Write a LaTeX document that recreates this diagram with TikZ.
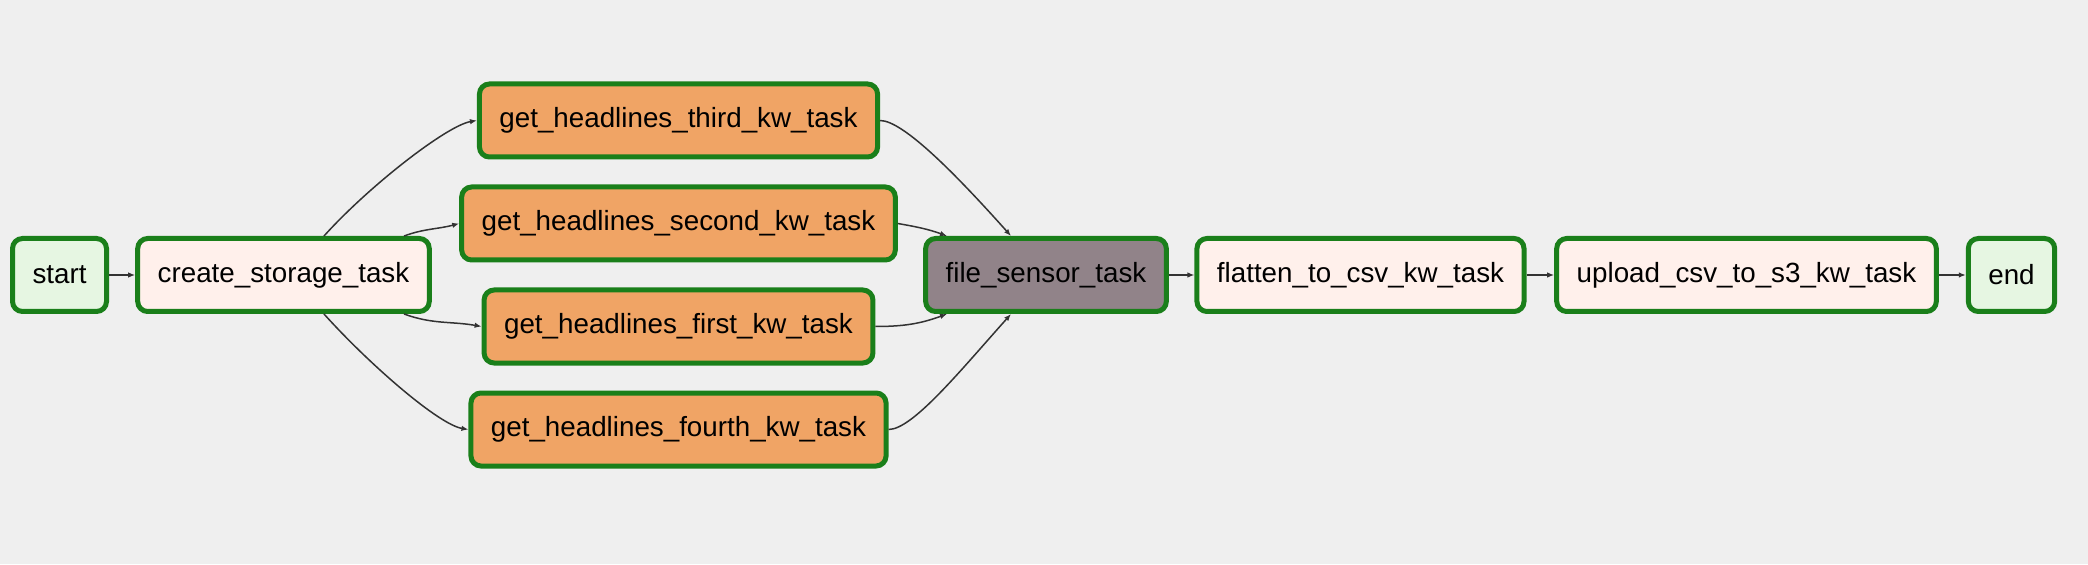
\documentclass[tikz,border=0pt]{standalone}
\usepackage{fontspec}
\setmainfont{Liberation Sans}
\usetikzlibrary{arrows.meta}
\definecolor{bg}{HTML}{EFEFEF}
\definecolor{green}{HTML}{1A7F1A}
\definecolor{dummy}{HTML}{E6F6E2}
\definecolor{python}{HTML}{FFF0EB}
\definecolor{orange}{HTML}{F0A465}
\definecolor{sensor}{HTML}{918389}
\definecolor{arrowgrey}{HTML}{333333}
\tikzset{%
    task/.style={%
        draw=green, line width=1mm, rounded corners=2mm,
        minimum height=14.6mm, inner xsep=4mm,
        font=\fontsize{15.8}{19}\selectfont
    },
    dep/.style={-{Latex[length=1.4mm, width=1.1mm]}, arrowgrey, line width=0.3mm}
}
\begin{document}
\begin{tikzpicture}

    \fill[bg] (0, 0) rectangle (417.6mm, 112.8mm);

    %%%%%%%%%%%%
    % Setup
    \node[task, fill=dummy] (start) at (11.9mm, 57.8mm) {start};
    \node[task, fill=python] (create) at (56.7mm, 57.8mm)
        {create\_storage\_task};
    \draw[dep] (start) -- (create);

    % Headlines
    \foreach \kw/\ypos in {third/88.7, second/68.1, first/47.5, fourth/26.9}{%
        \node[task, fill=orange] (get-\kw) at (135.7mm, \ypos mm)
            {get\_headlines\_\kw\_kw\_task};
    };
    \draw[dep] ([xshift=8.1mm] create.north)
        .. controls +(9mm, 10mm) and +(-6mm, -1mm) .. (get-third.west);
    \draw[dep] ([xshift=24.1mm] create.north)
        to[out=20, in=195] (get-second.west);
    \draw[dep] ([xshift=24.1mm] create.south)
        to[out=-20, in=170] (get-first.west);
    \draw[dep] ([xshift=8.1mm] create.south)
        .. controls +(9mm, -10mm) and +(-6mm, 1mm) .. (get-fourth.west);

    %%%%%%%%%%%%
    % Sensor
    \node[task, fill=sensor] (sensor) at (209.2mm, 57.8mm)
        {file\_sensor\_task};
    \draw[dep] (get-third.east)
        .. controls +(4.8mm, 0) and +(-10.2mm, 11.4mm)
        .. ([xshift=-7mm] sensor.north);
    \draw[dep] (get-second.east)
        to[out=-10, in=160] ([xshift=-19.8mm] sensor.north);
    \draw[dep] (get-first.east)
        to[out=0, in=200] ([xshift=-19.8mm] sensor.south);
    \draw[dep] (get-fourth.east)
        .. controls +(4.8mm, 0) and +(-10.2mm, -11.4mm)
        .. ([xshift=-7mm] sensor.south);

    % Output
    \node[task, fill=python] (flatten) at (272.1mm, 57.8mm)
        {flatten\_to\_csv\_kw\_task};
    \node[task, fill=python] (upload) at (349.3mm, 57.8mm)
        {upload\_csv\_to\_s3\_kw\_task};
    \node[task, fill=dummy] (end) at (402.3mm, 57.8mm) {end};
    \draw[dep] (sensor) -- (flatten);
    \draw[dep] (flatten) -- (upload);
    \draw[dep] (upload) -- (end);

\end{tikzpicture}
\end{document}
